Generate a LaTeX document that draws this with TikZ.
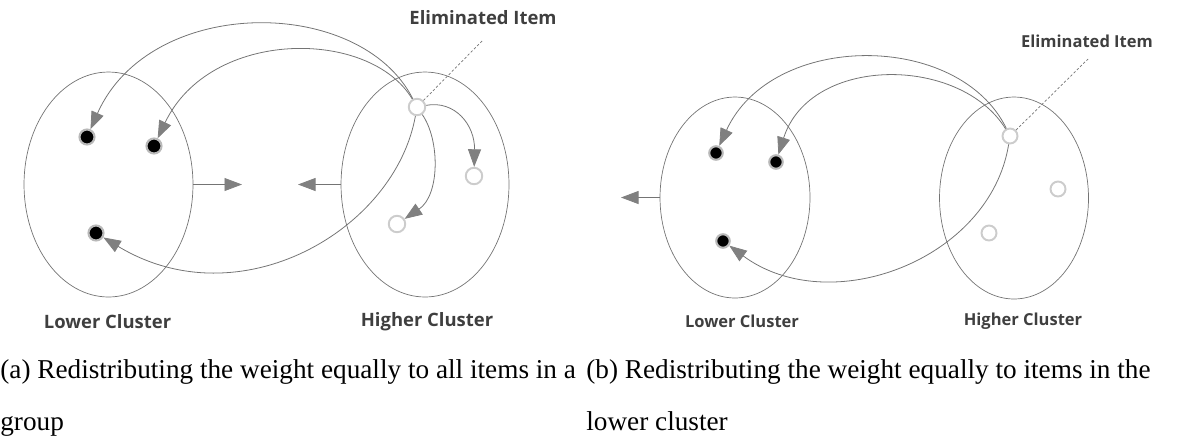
\documentclass[tikz,border=0pt]{standalone}
\usepackage{fontspec}
\setmainfont{Liberation Serif}
\newfontfamily\tagfont{Open Sans}
\usetikzlibrary{arrows.meta,shapes.geometric}

\definecolor{linegray}{HTML}{747474}
\definecolor{tipgray}{HTML}{808080}
\definecolor{taggray}{HTML}{3F3F3F}

\tikzset{
  cluster/.style={ellipse, draw=linegray, line width=0.4pt, inner sep=0pt},
  lowdot/.style={circle, fill=black, draw=gray!55, line width=1.2pt, inner sep=0pt, minimum size=0.3cm},
  highdot/.style={circle, fill=white, draw=gray!40, line width=1.1pt, inner sep=0pt, minimum size=0.33cm},
  flow/.style={draw=linegray, line width=0.45pt, -{Triangle[length=0.35cm,width=0.26cm,color=tipgray]}},
  leader/.style={draw=linegray, line width=0.4pt, dash pattern=on 0.05cm off 0.04cm},
  tag/.style={font=\tagfont\bfseries\fontsize{10.5}{12}\selectfont, text=taggray, inner sep=0pt},
  smalltag/.style={tag, font=\tagfont\bfseries\fontsize{9.4}{11}\selectfont},
  caption/.style={font=\fontsize{15.5}{18}\selectfont, anchor=base west, inner sep=0pt}
}

\begin{document}
\begin{tikzpicture}[x=0.02cm, y=-0.02cm]

  \useasboundingbox (0,0) rectangle (1189,441);

  % ---------- (a) all items in a group ----------
  \node[cluster, minimum width=3.38cm, minimum height=4.5cm] (lowA) at (108.5,184.5) {};
  \node[cluster, minimum width=3.36cm, minimum height=4.5cm] (highA) at (425,184.5) {};

  % items
  \node[lowdot] (la1) at (87,137) {};
  \node[lowdot] (la2) at (154,146) {};
  \node[lowdot] (la3) at (96,233) {};
  \node[highdot] (ha0) at (417,107) {};
  \node[highdot] (ha1) at (474,176) {};
  \node[highdot] (ha2) at (397,224) {};

  % the two clusters pull toward each other
  \coordinate (midA1) at (242,184.5);
  \coordinate (midA2) at (298,184.5);
  \draw[flow] (lowA.east) -- (midA1);
  \draw[flow] (highA.west) -- (midA2);

  % weight of the eliminated item goes to every item
  \draw[flow] (ha0) .. controls (360,-5) and (150,-5) .. (la1);
  \draw[flow] (ha0) .. controls (370,28) and (210,28) .. (la2);
  \draw[flow] (ha0) .. controls (395,230) and (240,320) .. (la3);
  \draw[flow] (ha0) .. controls (455,100) and (475,125) .. (ha1);
  \draw[flow] (ha0) .. controls (440,140) and (440,195) .. (ha2);

  % labels
  \node[tag] (elimA) at (483,18) {Eliminated Item};
  \coordinate (elimAtip) at (483,40);
  \draw[leader] (ha0) -- (elimAtip);
  \node[tag] (lowAtag) at (107.5,322) {Lower Cluster};
  \node[tag] (highAtag) at (427,322) {Higher Cluster};

  % ---------- (b) items in the lower cluster ----------
  \node[cluster, minimum width=3.0cm, minimum height=4.02cm] (lowB) at (735,197.5) {};
  \node[cluster, minimum width=2.98cm, minimum height=4.04cm] (highB) at (1014,198) {};

  \node[lowdot, minimum size=0.27cm] (lb1) at (716,153) {};
  \node[lowdot, minimum size=0.27cm] (lb2) at (776,162) {};
  \node[lowdot, minimum size=0.27cm] (lb3) at (723,241) {};
  \node[highdot, minimum size=0.3cm] (hb0) at (1010,136) {};
  \node[highdot, minimum size=0.3cm] (hb1) at (1058,189) {};
  \node[highdot, minimum size=0.3cm] (hb2) at (989,233) {};

  \coordinate (outB) at (621,197.5);
  \draw[flow] (lowB.west) -- (outB);

  \draw[flow] (hb0) .. controls (959,31) and (772,31) .. (lb1);
  \draw[flow] (hb0) .. controls (960,55) and (810,55) .. (lb2);
  \draw[flow] (hb0) .. controls (990,260) and (830,320) .. (lb3);

  \node[smalltag] (elimB) at (1087,41) {Eliminated Item};
  \coordinate (elimBtip) at (1088,59);
  \draw[leader] (hb0) -- (elimBtip);
  \node[smalltag] (lowBtag) at (742,321) {Lower Cluster};
  \node[smalltag] (highBtag) at (1023,321) {Higher Cluster};

  % ---------- captions ----------
  \node[caption] (capA1) at (0,378) {(a) Redistributing the weight equally to all items in a};
  \node[caption] (capA2) at (0,430) {group};
  \node[caption] (capB1) at (586,378) {(b) Redistributing the weight equally to items in the};
  \node[caption] (capB2) at (586,430) {lower cluster};

\end{tikzpicture}
\end{document}
